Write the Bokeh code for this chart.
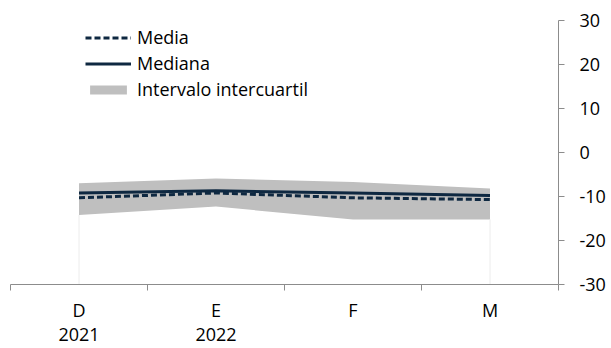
from bokeh.plotting import figure
from bokeh.models import (LinearAxis, FixedTicker, Range1d, Legend, LegendItem,
                          ColumnDataSource)
from bokeh.embed import file_html
from bokeh.resources import INLINE

# ---- data ----
months = ["D", "E", "F", "M"]
years = ["2021", "2022", "", ""]
media = [-10.3, -9.2, -10.3, -10.7]
mediana = [-9.2, -8.7, -9.2, -9.8]
q1 = [-14.2, -12.3, -15.2, -15.2]
q3 = [-7.0, -5.9, -6.7, -8.2]
y_ticks = [-30, -20, -10, 0, 10, 20, 30]
y_tick_labels = ["-30", "-20", "-10", "0", "10", "20", "30"]

FONT = "Open Sans"
FS = "18px"
NAVY = "#0e2841"
GRAY_AX = "#8c8c8c"

x = [i + 0.5 for i in range(len(months))]
src = ColumnDataSource(dict(x=x, media=media, mediana=mediana, q1=q1, q3=q3))

p = figure(width=608, height=348, output_backend="svg", toolbar_location=None,
           x_range=Range1d(0, len(months)), y_range=Range1d(-30, 30),
           y_axis_location=None, x_axis_location=None,
           min_border_left=10, min_border_top=20, min_border_right=49,
           min_border_bottom=64)
p.outline_line_color = None
p.grid.visible = False
p.background_fill_color = "white"
p.border_fill_color = "white"

band = p.varea(x="x", y1="q1", y2="q3", source=src, fill_color="#bfbfbf")
# faint drop lines at first/last category (Excel area artifact)
ends = [0, len(months) - 1]
p.segment(x0=[x[i] for i in ends], y0=[q1[i] for i in ends],
          x1=[x[i] for i in ends], y1=[y_ticks[0] for i in ends],
          line_color="#ececec", line_width=1)
l_med = p.line(x="x", y="mediana", source=src, line_color=NAVY, line_width=3)
l_mean = p.line(x="x", y="media", source=src, line_color=NAVY, line_width=3,
                line_dash="6 3")

# right y axis
yax = LinearAxis(ticker=FixedTicker(ticks=y_ticks))
yax.major_label_overrides = dict(zip(y_ticks, y_tick_labels))
yax.axis_line_color = GRAY_AX
yax.major_tick_line_color = GRAY_AX
yax.major_tick_out = 6
yax.major_tick_in = 0
yax.minor_tick_line_color = None
yax.major_label_text_font = FONT
yax.major_label_text_font_size = FS
yax.major_label_text_color = "#000000"
yax.major_label_standoff = 15
p.add_layout(yax, "right")

# bottom x axis: ticks at boundaries (minor), labels at centers (major)
xax = LinearAxis(ticker=FixedTicker(ticks=x, minor_ticks=list(range(len(months) + 1))))
xax.axis_line_color = GRAY_AX
xax.major_tick_line_color = None
xax.major_tick_out = 0
xax.major_tick_in = 0
xax.minor_tick_line_color = GRAY_AX
xax.minor_tick_out = 6
xax.minor_tick_in = 0
xax.major_label_overrides = {xi: (m + ("\n" + yv if yv else "")) for xi, m, yv in zip(x, months, years)}
xax.major_label_text_font = FONT
xax.major_label_text_font_size = FS
xax.major_label_text_line_height = 1.0
xax.major_label_text_color = "#000000"
xax.major_label_standoff = 7
p.add_layout(xax, "below")

legend = Legend(items=[
    LegendItem(label="Media", renderers=[l_mean]),
    LegendItem(label="Mediana", renderers=[l_med]),
    LegendItem(label="Intervalo intercuartil", renderers=[band]),
], location=(75, 182))
legend.background_fill_alpha = 0
legend.border_line_color = None
legend.padding = 0
legend.margin = 0
legend.spacing = 0
legend.glyph_width = 46
legend.glyph_height = 11
legend.label_height = 26
legend.label_standoff = 6
legend.label_text_font = FONT
legend.label_text_font_size = FS
legend.label_text_color = "#000000"
p.add_layout(legend, "center")

open("out.html", "w").write(file_html(p, INLINE))
